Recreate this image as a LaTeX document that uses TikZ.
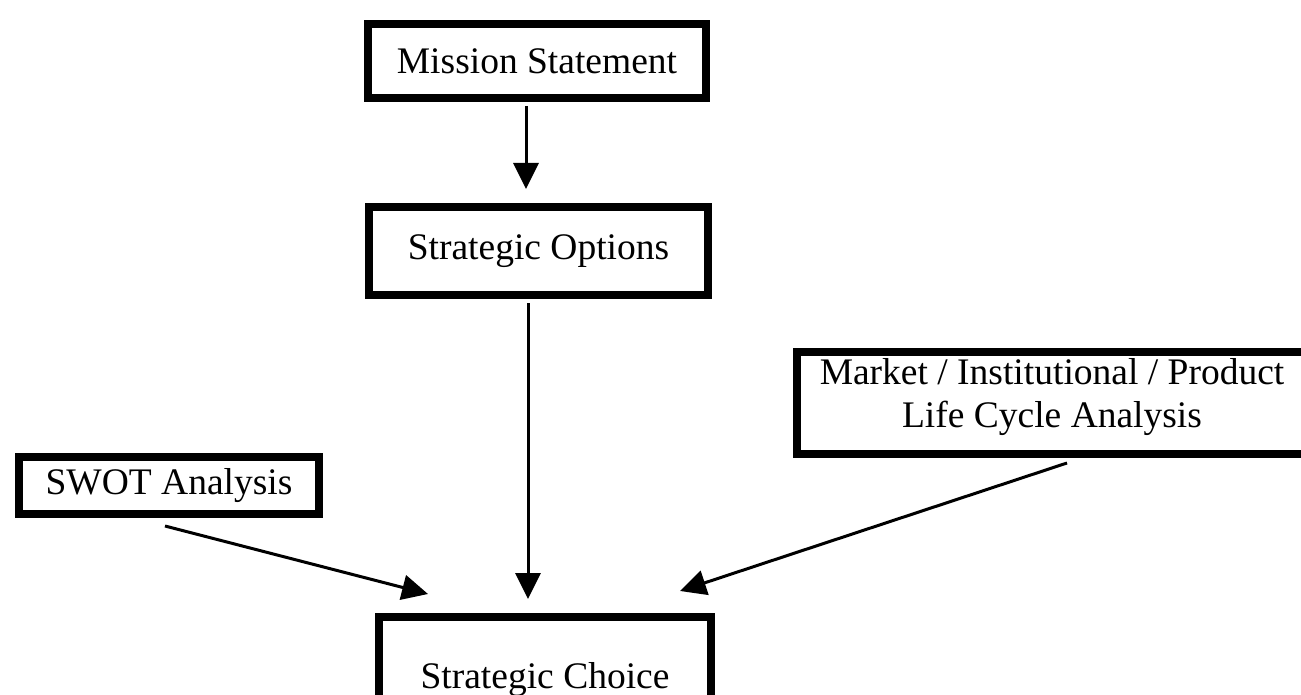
\documentclass[tikz,border=0pt]{standalone}
\usepackage{fontspec}
\setmainfont{Liberation Serif}
\usetikzlibrary{arrows.meta,calc}
\begin{document}
\begin{tikzpicture}[x=1pt,y=-1pt,
  box/.style={draw=black,line width=8pt,inner sep=0pt,fill=white,
    font=\fontsize{37.5}{43}\selectfont,align=center},
  arr/.style={line width=3pt,-{Triangle[length=26pt,width=25pt]}},
  lbl/.style={inner sep=0pt,font=\fontsize{37.5}{43}\selectfont,align=center}]
\useasboundingbox (0,0) rectangle (1301,695);
\clip (0,0) rectangle (1301,695);
\node[box,minimum width=338pt,minimum height=74pt] (ms) at (537,61) {Mission Statement};
\node[box,minimum width=339pt,minimum height=88pt] (so) at (538.5,251) {Strategic Options};
\node[box,minimum width=332pt,minimum height=126pt] (sc) at (545,680) {Strategic Choice};
\node[box,minimum width=300pt,minimum height=57pt] (sw) at (169,485.5) {SWOT Analysis};
\node[box,minimum width=509pt,minimum height=102pt] (mk) at (1051.5,403) {};
\node[lbl] (mkt) at (1052,397) {Market / Institutional / Product\\Life Cycle Analysis};
\draw[arr] ([xshift=-11pt,yshift=-4pt]ms.south) -- ([xshift=-12.5pt,yshift=14pt]so.north);
\draw[arr] ([xshift=-10.5pt,yshift=-4pt]so.south) -- ([xshift=-17pt,yshift=14pt]sc.north);
\draw[arr] ([xshift=-4pt,yshift=-8pt]sw.south) -- ([xshift=53pt,yshift=19pt]sc.north west);
\draw[arr] ([xshift=15.5pt,yshift=-5pt]mk.south) -- ([xshift=-35pt,yshift=22pt]sc.north east);
\end{tikzpicture}
\end{document}
